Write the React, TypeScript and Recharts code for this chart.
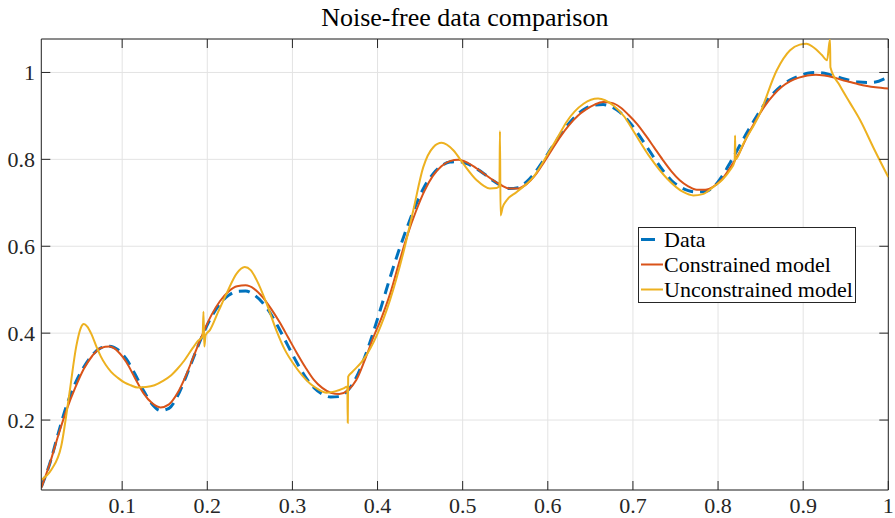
import React from 'react';
import { LineChart, Line, XAxis, YAxis, CartesianGrid, Legend, ReferenceLine } from 'recharts';

const FONT = '"Liberation Serif", "DejaVu Serif", serif';

const chartTitle = 'Noise-free data comparison';
const seriesNames = ['Data', 'Constrained model', 'Unconstrained model'];
const seriesColors = ['#0072BD', '#D95319', '#EDB120'];

const xTicks = [0.1, 0.2, 0.3, 0.4, 0.5, 0.6, 0.7, 0.8, 0.9, 1];
const yTicks = [0.2, 0.4, 0.6, 0.8, 1];
const xDomain = [0.005, 1];
const yDomain = [0.039, 1.077];

const xData = [0.005, 0.015, 0.025, 0.035, 0.045, 0.055, 0.065, 0.075, 0.085, 0.095, 0.105, 0.115, 0.125, 0.135, 0.145, 0.155, 0.165, 0.175, 0.185, 0.195, 0.205, 0.215, 0.225, 0.235, 0.245, 0.255, 0.265, 0.275, 0.285, 0.295, 0.305, 0.315, 0.325, 0.335, 0.345, 0.355, 0.365, 0.375, 0.385, 0.395, 0.405, 0.415, 0.425, 0.435, 0.445, 0.455, 0.465, 0.475, 0.485, 0.495, 0.505, 0.515, 0.525, 0.535, 0.545, 0.555, 0.565, 0.575, 0.585, 0.595, 0.605, 0.615, 0.625, 0.635, 0.645, 0.655, 0.665, 0.675, 0.685, 0.695, 0.705, 0.715, 0.725, 0.735, 0.745, 0.755, 0.765, 0.775, 0.785, 0.795, 0.805, 0.815, 0.825, 0.835, 0.845, 0.855, 0.865, 0.875, 0.885, 0.895, 0.905, 0.915, 0.925, 0.935, 0.945, 0.955, 0.965, 0.975, 0.985, 0.995, 1.0];
const yData = [0.046, 0.10, 0.17, 0.235, 0.285, 0.322, 0.350, 0.366, 0.370, 0.362, 0.340, 0.306, 0.268, 0.237, 0.222, 0.227, 0.255, 0.300, 0.350, 0.398, 0.438, 0.468, 0.487, 0.496, 0.497, 0.488, 0.470, 0.443, 0.408, 0.370, 0.333, 0.300, 0.275, 0.260, 0.253, 0.254, 0.268, 0.298, 0.345, 0.402, 0.465, 0.530, 0.590, 0.645, 0.695, 0.737, 0.766, 0.785, 0.794, 0.795, 0.790, 0.780, 0.767, 0.752, 0.740, 0.733, 0.735, 0.748, 0.770, 0.798, 0.828, 0.857, 0.883, 0.904, 0.918, 0.925, 0.926, 0.921, 0.908, 0.888, 0.862, 0.833, 0.803, 0.775, 0.752, 0.737, 0.728, 0.725, 0.726, 0.737, 0.762, 0.795, 0.830, 0.865, 0.898, 0.928, 0.952, 0.970, 0.983, 0.992, 0.998, 1.000, 0.998, 0.993, 0.987, 0.982, 0.978, 0.977, 0.978, 0.985, 0.990];

const xConstrained = [0.005, 0.015, 0.025, 0.035, 0.045, 0.055, 0.065, 0.075, 0.085, 0.095, 0.105, 0.115, 0.125, 0.135, 0.145, 0.155, 0.165, 0.175, 0.185, 0.195, 0.205, 0.215, 0.225, 0.235, 0.245, 0.255, 0.265, 0.275, 0.285, 0.295, 0.305, 0.315, 0.325, 0.335, 0.345, 0.355, 0.365, 0.375, 0.385, 0.395, 0.405, 0.415, 0.425, 0.435, 0.445, 0.455, 0.465, 0.475, 0.485, 0.495, 0.505, 0.515, 0.525, 0.535, 0.545, 0.555, 0.565, 0.575, 0.585, 0.595, 0.605, 0.615, 0.625, 0.635, 0.645, 0.655, 0.665, 0.675, 0.685, 0.695, 0.705, 0.715, 0.725, 0.735, 0.745, 0.755, 0.765, 0.775, 0.785, 0.795, 0.805, 0.815, 0.825, 0.835, 0.845, 0.855, 0.865, 0.875, 0.885, 0.895, 0.905, 0.915, 0.925, 0.935, 0.945, 0.955, 0.965, 0.975, 0.985, 1.0];
const yConstrained = [0.044, 0.10, 0.165, 0.225, 0.275, 0.318, 0.348, 0.366, 0.369, 0.358, 0.333, 0.297, 0.262, 0.239, 0.229, 0.236, 0.262, 0.303, 0.352, 0.400, 0.442, 0.474, 0.496, 0.508, 0.510, 0.502, 0.483, 0.456, 0.425, 0.390, 0.355, 0.322, 0.293, 0.274, 0.263, 0.260, 0.268, 0.292, 0.338, 0.390, 0.437, 0.492, 0.560, 0.625, 0.680, 0.727, 0.762, 0.784, 0.796, 0.799, 0.793, 0.781, 0.767, 0.753, 0.741, 0.733, 0.733, 0.743, 0.763, 0.792, 0.823, 0.853, 0.879, 0.900, 0.915, 0.926, 0.932, 0.930, 0.920, 0.902, 0.881, 0.855, 0.827, 0.799, 0.773, 0.752, 0.738, 0.730, 0.730, 0.738, 0.755, 0.783, 0.815, 0.856, 0.892, 0.923, 0.948, 0.967, 0.980, 0.988, 0.993, 0.995, 0.993, 0.989, 0.983, 0.978, 0.973, 0.969, 0.966, 0.963];

const xUnconstrained = [0.005, 0.0166, 0.0283, 0.038, 0.046, 0.051, 0.055, 0.059, 0.0636, 0.07, 0.075, 0.081, 0.087, 0.095, 0.103, 0.11, 0.118, 0.128, 0.138, 0.148, 0.1576, 0.165, 0.173, 0.183, 0.189, 0.1945, 0.1955, 0.1965, 0.198, 0.203, 0.213, 0.2226, 0.2344, 0.244, 0.251, 0.258, 0.2697, 0.281, 0.291, 0.301, 0.3206, 0.33, 0.34, 0.35, 0.36, 0.3645, 0.365, 0.3655, 0.37, 0.383, 0.4, 0.4146, 0.43, 0.442, 0.4537, 0.4655, 0.4753, 0.489, 0.5007, 0.5165, 0.532, 0.54, 0.5432, 0.5438, 0.5445, 0.547, 0.5517, 0.5635, 0.583, 0.6026, 0.614, 0.622, 0.642, 0.659, 0.677, 0.69, 0.7, 0.72, 0.74, 0.759, 0.771, 0.782, 0.794, 0.805, 0.814, 0.8195, 0.82, 0.8205, 0.8297, 0.849, 0.869, 0.8846, 0.896, 0.904, 0.912, 0.922, 0.928, 0.9315, 0.932, 0.943, 0.955, 0.967, 0.983, 1.0];
const yUnconstrained = [0.062, 0.085, 0.139, 0.261, 0.369, 0.41, 0.421, 0.415, 0.399, 0.368, 0.346, 0.326, 0.311, 0.297, 0.286, 0.28, 0.275, 0.276, 0.28, 0.29, 0.303, 0.318, 0.337, 0.366, 0.382, 0.393, 0.449, 0.369, 0.395, 0.407, 0.45, 0.491, 0.537, 0.552, 0.545, 0.522, 0.468, 0.407, 0.362, 0.33, 0.284, 0.271, 0.263, 0.266, 0.273, 0.277, 0.194, 0.3, 0.31, 0.338, 0.399, 0.476, 0.583, 0.683, 0.782, 0.828, 0.838, 0.821, 0.79, 0.752, 0.733, 0.734, 0.74, 0.865, 0.671, 0.69, 0.706, 0.725, 0.759, 0.821, 0.859, 0.886, 0.928, 0.94, 0.924, 0.898, 0.867, 0.805, 0.756, 0.725, 0.717, 0.72, 0.736, 0.753, 0.775, 0.795, 0.855, 0.8, 0.836, 0.905, 1.005, 1.051, 1.064, 1.066, 1.058, 1.04, 1.028, 1.076, 1.012, 0.97, 0.93, 0.89, 0.825, 0.759];

const toPoints = (xs: number[], ys: number[]) => xs.map((x, i) => ({ x, y: ys[i] }));
const dataPts = toPoints(xData, yData);
const conPts = toPoints(xConstrained, yConstrained);
const uncPts = toPoints(xUnconstrained, yUnconstrained);

// layout constants (pixels)
const CHART_W = 895;
const CHART_H = 518;
const PLOT_LEFT = 41.3;
const PLOT_RIGHT = 888.3;
const PLOT_TOP = 39;
const PLOT_BOTTOM = 490;
const TICK_LEN = 9;
const AXIS_COLOR = '#262626';

const XTick = (props: any) => {
  const { x, payload } = props;
  return (
    <g>
      <line x1={x} x2={x} y1={PLOT_BOTTOM} y2={PLOT_BOTTOM - TICK_LEN} stroke={AXIS_COLOR} strokeWidth={1} />
      <line x1={x} x2={x} y1={PLOT_TOP} y2={PLOT_TOP + TICK_LEN} stroke={AXIS_COLOR} strokeWidth={1} />
      <text x={x} y={513} textAnchor="middle" fontSize={22} fill={AXIS_COLOR} fontFamily={FONT}>
        {String(payload.value)}
      </text>
    </g>
  );
};

const YTick = (props: any) => {
  const { y, payload } = props;
  return (
    <g>
      <line x1={PLOT_LEFT} x2={PLOT_LEFT + TICK_LEN} y1={y} y2={y} stroke={AXIS_COLOR} strokeWidth={1} />
      <line x1={PLOT_RIGHT} x2={PLOT_RIGHT - TICK_LEN} y1={y} y2={y} stroke={AXIS_COLOR} strokeWidth={1} />
      <text x={35} y={y} dy="0.36em" textAnchor="end" fontSize={22} fill={AXIS_COLOR} fontFamily={FONT}>
        {String(payload.value)}
      </text>
    </g>
  );
};

const LegendBox = () => (
  <div
    style={{
      width: 216,
      height: 74,
      border: '1px solid ' + AXIS_COLOR,
      background: '#fff',
      fontFamily: FONT,
      fontSize: 22,
      color: '#000',
      boxSizing: 'content-box',
    }}
  >
    <div style={{ transform: 'translateY(-1.5px)' }}>
      {seriesNames.map((name, i) => (
        <div key={name} style={{ height: 25, display: 'flex', alignItems: 'center', whiteSpace: 'nowrap' }}>
          <svg width={24} height={10} style={{ flex: 'none' }}>
            {i === 0 ? (
              <line x1={2} x2={16} y1={5} y2={5} stroke={seriesColors[i]} strokeWidth={3} />
            ) : (
              <line x1={2} x2={24} y1={5} y2={5} stroke={seriesColors[i]} strokeWidth={2} />
            )}
          </svg>
          <span style={{ lineHeight: '25px', marginLeft: 1 }}>{name}</span>
        </div>
      ))}
    </div>
  </div>
);

export default function App() {
  return (
    <div style={{ position: 'absolute', left: 0, top: 0, width: CHART_W, height: CHART_H, background: '#fff' }}>
      <div
        style={{
          position: 'absolute',
          left: PLOT_LEFT,
          width: PLOT_RIGHT - PLOT_LEFT,
          top: 3,
          textAlign: 'center',
          fontFamily: FONT,
          fontSize: 26,
          lineHeight: '30px',
          color: '#000',
          whiteSpace: 'nowrap',
        }}
      >
        {chartTitle}
      </div>
      <LineChart
        width={CHART_W}
        height={CHART_H}
        margin={{ top: PLOT_TOP, right: CHART_W - PLOT_RIGHT, bottom: 0, left: 0 }}
        style={{ fontFamily: FONT, position: 'absolute', left: 0, top: 0 }}
      >
        <CartesianGrid stroke="#e3e3e3" strokeWidth={1} />
        <XAxis
          dataKey="x"
          type="number"
          domain={xDomain}
          ticks={xTicks}
          allowDataOverflow
          height={CHART_H - PLOT_BOTTOM}
          stroke={AXIS_COLOR}
          tickLine={false}
          tickSize={0}
          tickMargin={0}
          tick={<XTick />}
        />
        <YAxis
          type="number"
          domain={yDomain}
          ticks={yTicks}
          allowDataOverflow
          width={PLOT_LEFT}
          stroke={AXIS_COLOR}
          tickLine={false}
          tickSize={0}
          tickMargin={0}
          tick={<YTick />}
        />
        <ReferenceLine x={xDomain[1]} stroke={AXIS_COLOR} strokeWidth={1} />
        <ReferenceLine y={yDomain[1]} stroke={AXIS_COLOR} strokeWidth={1} />
        <Legend
          layout="vertical"
          align="center"
          verticalAlign="middle"
          content={() => <LegendBox />}
          wrapperStyle={{ left: 638, top: 227, width: 218, height: 76 }}
        />
        <Line
          data={dataPts}
          dataKey="y"
          name={seriesNames[0]}
          type="monotone"
          stroke={seriesColors[0]}
          strokeWidth={3}
          strokeDasharray="11 7"
          dot={false}
          activeDot={false}
          isAnimationActive={false}
        />
        <Line
          data={conPts}
          dataKey="y"
          name={seriesNames[1]}
          type="monotone"
          stroke={seriesColors[1]}
          strokeWidth={2}
          dot={false}
          activeDot={false}
          isAnimationActive={false}
        />
        <Line
          data={uncPts}
          dataKey="y"
          name={seriesNames[2]}
          type="monotone"
          stroke={seriesColors[2]}
          strokeWidth={2}
          dot={false}
          activeDot={false}
          isAnimationActive={false}
        />
      </LineChart>
    </div>
  );
}
